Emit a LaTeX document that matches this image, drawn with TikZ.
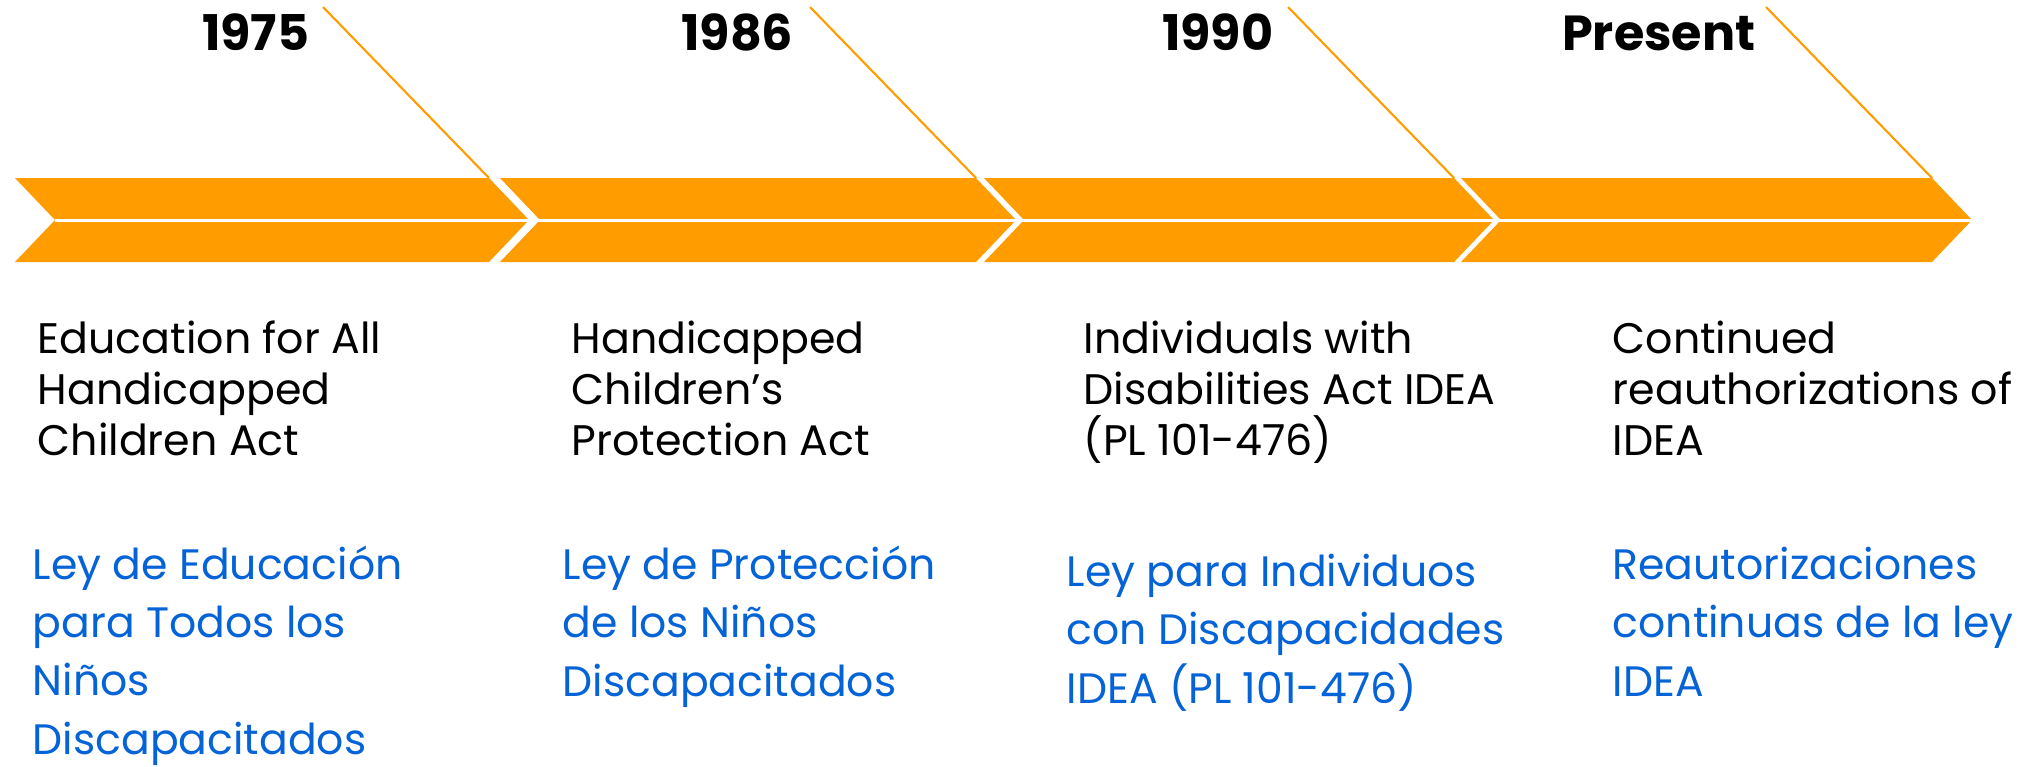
\documentclass[tikz,border=0pt]{standalone}
\usepackage{fontspec}
\setmainfont{Poppins}
\definecolor{tlorange}{RGB}{255,156,0}
\definecolor{tlblue}{RGB}{5,99,216}
\begin{document}
\begin{tikzpicture}[x=0.01cm,y=-0.01cm,
  chev/.style={fill=tlorange, draw=none},
  lead/.style={draw=tlorange, line width=0.6pt},
  midline/.style={draw=white, line width=0.85pt},
  year/.style={anchor=base east, inner sep=0pt, font=\fontsize{14}{17}\selectfont\bfseries},
  entxt/.style={anchor=base west, inner sep=0pt, align=left, font=\fontsize{12.15}{14.5}\selectfont},
  estxt/.style={anchor=base west, inner sep=0pt, align=left, text=tlblue, font=\fontsize{12.1}{16.5}\selectfont}]
\useasboundingbox[fill=white] (0,0) rectangle (2028,766);
\foreach \L/\R/\n in {15/489/1, 500/976/2, 984/1454/3, 1461/1932/4} {
  \fill[chev] (\L,178) -- (\L+40,220) -- (\L,262) -- (\R,262) -- (\R+40,220) -- (\R,178) -- cycle;
  \coordinate (c\n) at (\R,178);
  \coordinate (t\n) at (\R-166,7);
  \draw[lead] (t\n) -- (c\n);
}
\coordinate (ms) at (55,220);
\coordinate (me) at (1972,220);
\draw[midline] (ms) -- (me);

% year labels (baseline y=50)
\node[year] (y1) at (310,50) {1975};
\node[year] (y2) at (794,50) {1986};
\node[year] (y3) at (1274,50) {1990};
\node[year] (y4) at (1756,50) {Present};

% English texts: anchor is the baseline of the last line (first baseline 353, spacing 51)
\node[entxt] (e1) at (37,455) {Education for All\\Handicapped\\Children Act};
\node[entxt] (e2) at (571,455) {Handicapped\\Children’s\\Protection Act};
\node[entxt] (e3) at (1083,455) {Individuals with\\Disabilities Act IDEA\\(PL 101-476)};
\node[entxt] (e4) at (1612,455) {Continued\\reauthorizations of\\IDEA};

% Spanish texts: first baseline 580, spacing 58
\node[estxt] (s1) at (32,754) {Ley de Educación\\para Todos los\\Niños\\Discapacitados};
\node[estxt] (s2) at (562,696) {Ley de Protección\\de los Niños\\Discapacitados};
\node[estxt] (s3) at (1066,703) {Ley para Individuos\\con Discapacidades\\IDEA (PL 101-476)};
\node[estxt] (s4) at (1612,696) {Reautorizaciones\\continuas de la ley\\IDEA};
\end{tikzpicture}
\end{document}
